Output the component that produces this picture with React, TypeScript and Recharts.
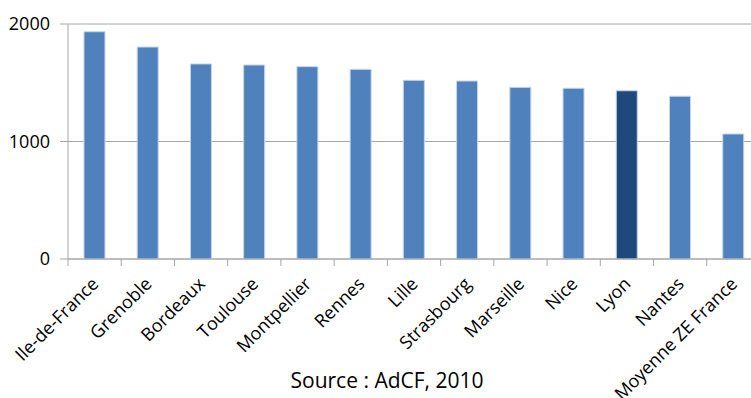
import { BarChart, Bar, XAxis, YAxis, CartesianGrid, Cell } from "recharts";

const cities = [
  "Ile-de-France",
  "Grenoble",
  "Bordeaux",
  "Toulouse",
  "Montpellier",
  "Rennes",
  "Lille",
  "Strasbourg",
  "Marseille",
  "Nice",
  "Lyon",
  "Nantes",
  "Moyenne ZE France",
];
const values = [1934, 1804, 1660, 1651, 1637, 1614, 1521, 1515, 1461, 1453, 1432, 1385, 1064];
const yTicks = [0, 1000, 2000];
const highlight = "Lyon";
const source = "Source : AdCF, 2010";

const data = cities.map((name, i) => ({ name, value: values[i] }));

const FONT = "'Open Sans', 'Noto Sans', sans-serif";
const CHART_W = 780;
const MARGIN_R = 20;
const Y_W = 68;
const STEP = (CHART_W - MARGIN_R - Y_W) / cities.length;
const TICK = 7;

function CityTick(props: any) {
  const { x, y, payload } = props;
  const bx = x - STEP / 2;
  const tx = x + 5;
  const ty = y + 19;
  return (
    <g>
      <line x1={bx} y1={y - TICK} x2={bx} y2={y} stroke="#a6a6a6" strokeWidth={1} />
      <text
        x={tx}
        y={ty}
        textAnchor="end"
        fontSize={18}
        fontFamily={FONT}
        fill="#000"
        transform={`rotate(-45 ${tx} ${ty})`}
      >
        {payload.value}
      </text>
    </g>
  );
}

export default function App() {
  return (
    <div
      style={{
        position: "fixed",
        left: 0,
        top: 0,
        width: 751,
        height: 398,
        overflow: "hidden",
        background: "#fff",
      }}
    >
      <BarChart
        width={CHART_W}
        height={398}
        data={data}
        margin={{ top: 24, right: MARGIN_R, left: 0, bottom: 0 }}
        barCategoryGap="30%"
      >
        <CartesianGrid vertical={false} stroke="#a6a6a6" />
        <XAxis
          dataKey="name"
          interval={0}
          height={139}
          tickLine={false}
          tickSize={TICK}
          tickMargin={0}
          stroke="#a6a6a6"
          tick={<CityTick />}
        />
        <YAxis
          width={Y_W}
          domain={[0, 2000]}
          ticks={yTicks}
          tickSize={8}
          tickMargin={10}
          stroke="#a6a6a6"
          tick={{ fontSize: 18, fontFamily: FONT, fill: "#000" }}
        />
        <Bar dataKey="value" isAnimationActive={false} stroke="#c6d5ea" strokeWidth={1}>
          {data.map((d) => (
            <Cell key={d.name} fill={d.name === highlight ? "#1f497d" : "#4f81bd"} />
          ))}
        </Bar>
      </BarChart>
      <div
        style={{
          position: "absolute",
          left: 0,
          top: 370,
          width: 774,
          textAlign: "center",
          fontFamily: FONT,
          fontSize: 21,
          lineHeight: "21px",
          color: "#000",
        }}
      >
        {source}
      </div>
    </div>
  );
}
